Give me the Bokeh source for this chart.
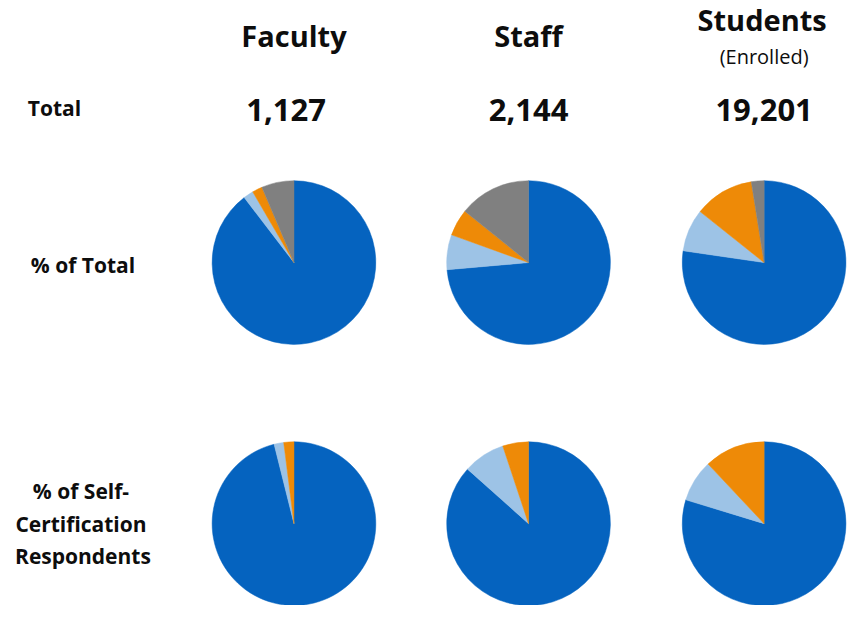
import numpy as np
from bokeh.plotting import figure
from bokeh.models import Range1d, ColumnDataSource
from bokeh.core.properties import value
from bokeh.embed import file_html
from bokeh.resources import INLINE

# ---- data ----
groups = ["Faculty", "Staff", "Students"]
group_sub = ["", "", "(Enrolled)"]
totals = ["1,127", "2,144", "19,201"]
slice_names = ["Category A", "Category B", "Category C", "Unknown"]
slice_colors = ["#0563BF", "#9DC3E6", "#EE8A07", "#808080"]
# % of Total (clockwise from top: blue, light blue, orange, gray)
pct_total = {
    "Faculty":  [89.6, 2.0, 2.0, 6.4],
    "Staff":    [73.6, 6.9, 5.3, 14.2],
    "Students": [77.3, 8.4, 11.8, 2.5],
}
# % of Self-Certification Respondents
pct_self = {
    "Faculty":  [96.1, 1.9, 2.0, 0.0],
    "Staff":    [86.6, 8.3, 5.1, 0.0],
    "Students": [79.7, 8.3, 12.0, 0.0],
}
row_labels = ["Total", "% of Total", "% of Self-\nCertification\nRespondents"]

# ---- layout ----
W, H = 849, 605
SX, SY = W / 865, H / 621
col_x = [299, 538, 778]
pie_y = [269, 537]
R = 84 * SY
FONT = value("Open Sans")
TXT = "#0d0d0d"

def Y(sy):
    return H - sy * SY

def X(sx):
    return sx * SX

p = figure(width=W, height=H, x_range=Range1d(0, W), y_range=Range1d(0, H),
           output_backend="svg", toolbar_location=None, min_border=0)
p.axis.visible = False
p.grid.visible = False
p.outline_line_color = None
p.background_fill_color = "white"
p.border_fill_color = "white"

for row, data in enumerate([pct_total, pct_self]):
    xs, ys, starts, ends, cols = [], [], [], [], []
    for gi, g in enumerate(groups):
        vals = np.array(data[g], dtype=float)
        frac = vals / vals.sum()
        cum = np.concatenate([[0], np.cumsum(frac)])
        for k in range(len(vals)):
            if vals[k] <= 0:
                continue
            xs.append(X(col_x[gi]))
            ys.append(Y(pie_y[row]))
            starts.append(np.pi / 2 - 2 * np.pi * cum[k + 1])
            ends.append(np.pi / 2 - 2 * np.pi * cum[k])
            cols.append(slice_colors[k])
    src = ColumnDataSource(dict(x=xs, y=ys, s=starts, e=ends, c=cols))
    p.wedge(x="x", y="y", radius=R, start_angle="s", end_angle="e",
            fill_color="c", line_color="c", line_width=0.5, source=src)

# column headers
head_pos = [(299, 36), (538, 36), (776, 19)]
p.text(x=[X(hp[0]) for hp in head_pos], y=[Y(hp[1]) for hp in head_pos],
       text=groups, text_font=FONT, text_font_style="bold",
       text_font_size="29px", text_align="center", text_baseline="middle",
       text_color=TXT)
p.text(x=[X(778)], y=[Y(57)], text=[group_sub[2]], text_font=FONT,
       text_font_size="20px", text_align="center", text_baseline="middle",
       text_color=TXT)

# totals
tot_pos = [291, 538, 778]
p.text(x=[X(v) for v in tot_pos], y=[Y(112)] * 3, text=totals, text_font=FONT,
       text_font_style="bold", text_font_size="31px", text_align="center",
       text_baseline="middle", text_color=TXT)

# row labels
lab_style = dict(text_font=FONT, text_font_style="bold", text_font_size="21px",
                 text_align="center", text_baseline="middle", text_color=TXT)
p.text(x=[X(55)], y=[Y(110)], text=[row_labels[0]], **lab_style)
p.text(x=[X(84)], y=[Y(271)], text=[row_labels[1]], **lab_style)
lines3 = row_labels[2].split("\n")
p.text(x=[X(82), X(82), X(84)], y=[Y(503), Y(537), Y(570)], text=lines3,
       **lab_style)

open("out.html", "w").write(file_html(p, INLINE))
